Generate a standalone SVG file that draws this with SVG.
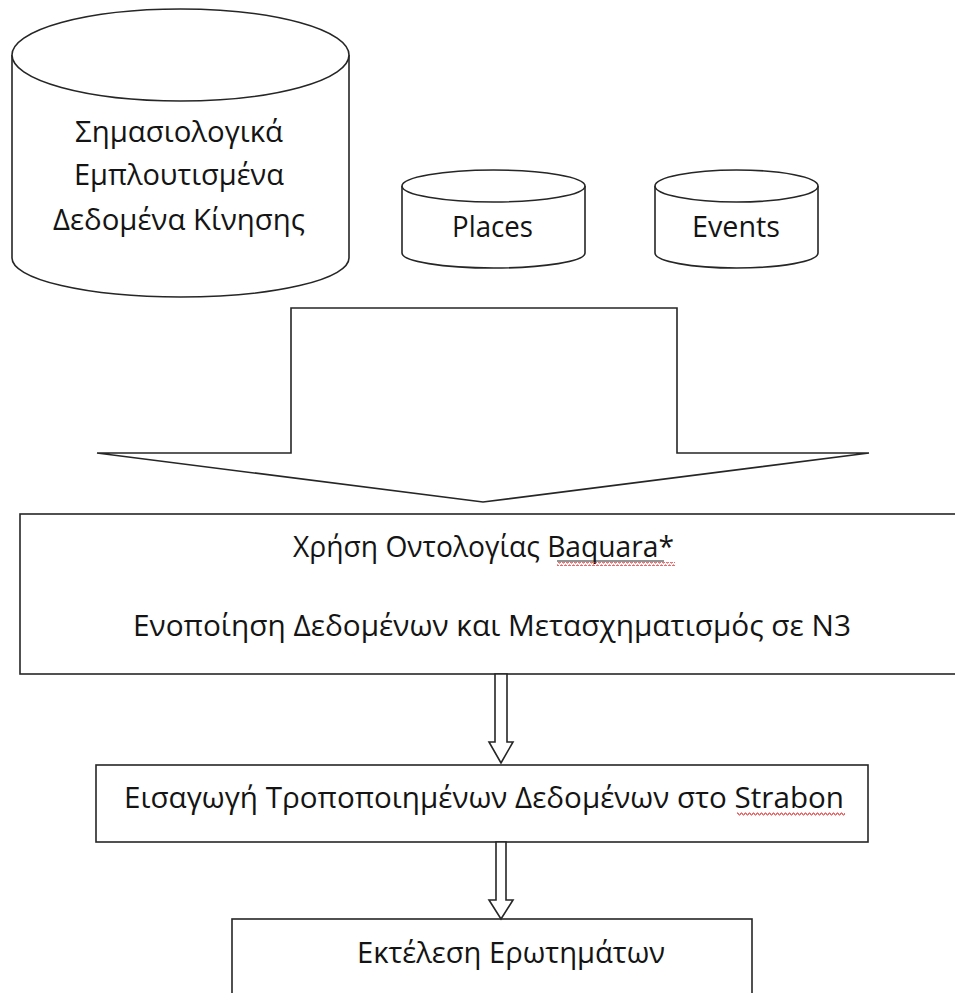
<svg xmlns="http://www.w3.org/2000/svg" width="955" height="993" viewBox="0 0 955 993">
  <style>
    .shape { fill: #ffffff; stroke: #262626; stroke-width: 1.6; }
    .label { font-family: "Open Sans", "Noto Sans", "DejaVu Sans", sans-serif; font-size: 29px; fill: #141414; text-anchor: middle; }
    .ul { stroke: #262626; stroke-width: 1; }
  </style>
  <defs>
    <!-- spell-check style red wave under unknown words -->
    <pattern id="wave" width="4" height="4" patternUnits="userSpaceOnUse">
      <polyline points="0,3 1,1 2,1 3,3 4,3" fill="none" stroke="#e02020" stroke-width="0.9"/>
    </pattern>
  </defs>
  <rect width="955" height="993" fill="#ffffff"/>

  <!-- data sources -->
  <g id="db-motion">
    <path class="shape" d="M12,55 L12,258 A168.5,39 0 0 0 349,258 L349,55"/>
    <ellipse class="shape" cx="180.5" cy="55" rx="168.5" ry="46"/>
    <text class="label" x="179" y="142" textLength="208" lengthAdjust="spacingAndGlyphs">Σημασιολογικά</text>
    <text class="label" x="179" y="185" textLength="210" lengthAdjust="spacingAndGlyphs">Εμπλουτισμένα</text>
    <text class="label" x="179" y="230" textLength="252" lengthAdjust="spacingAndGlyphs">Δεδομένα Κίνησης</text>
  </g>

  <g id="db-places">
    <path class="shape" d="M402,186 L402,253 A91.5,15 0 0 0 585,253 L585,186"/>
    <ellipse class="shape" cx="493.5" cy="186" rx="91.5" ry="16"/>
    <text class="label" x="492.5" y="237" textLength="81" lengthAdjust="spacingAndGlyphs">Places</text>
  </g>

  <g id="db-events">
    <path class="shape" d="M655,186 L655,253 A81.5,15 0 0 0 818,253 L818,186"/>
    <ellipse class="shape" cx="736.5" cy="186" rx="81.5" ry="16"/>
    <text class="label" x="736" y="237" textLength="88" lengthAdjust="spacingAndGlyphs">Events</text>
  </g>

  <!-- process steps -->
  <g id="step-ontology">
    <rect class="shape" x="20" y="514" width="945" height="160"/>
    <text class="label" x="483.5" y="557" textLength="381" lengthAdjust="spacingAndGlyphs">Χρήση Οντολογίας Baquara*</text>
    <line class="ul" x1="557" y1="561" x2="664" y2="561"/>
    <rect x="557" y="562" width="118" height="4" fill="url(#wave)"/>
    <text class="label" x="492" y="636" textLength="718" lengthAdjust="spacingAndGlyphs">Ενοποίηση Δεδομένων και Μετασχηματισμός σε Ν3</text>
  </g>

  <g id="step-import">
    <rect class="shape" x="96" y="765" width="772" height="77"/>
    <text class="label" x="484" y="808" textLength="720" lengthAdjust="spacingAndGlyphs">Εισαγωγή Τροποποιημένων Δεδομένων στο Strabon</text>
    <rect x="737" y="812" width="108" height="4" fill="url(#wave)"/>
  </g>

  <g id="step-queries">
    <rect class="shape" x="232" y="919" width="520" height="100"/>
    <text class="label" x="511" y="963" textLength="308" lengthAdjust="spacingAndGlyphs">Εκτέλεση Ερωτημάτων</text>
  </g>

  <!-- block arrows between stages -->
  <g id="connectors">
    <polygon class="shape" points="291,308 677,308 677,453 869,453 483,502 97,453 291,453"/>
    <polygon class="shape" stroke-width="1.3" points="495,674 507,674 507,742 513,742 501,763 489,742 495,742"/>
    <polygon class="shape" stroke-width="1.3" points="496,842 506,842 506,900 513,900 501,919 489,900 496,900"/>
  </g>
</svg>
